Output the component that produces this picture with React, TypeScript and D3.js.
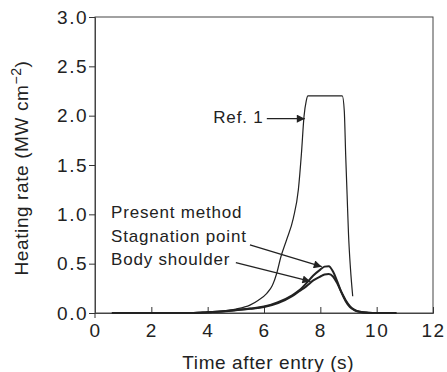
import * as d3 from 'd3';
import * as React from 'react';

const xTicks = [0, 2, 4, 6, 8, 10, 12];
const yTicks = [0, 0.5, 1.0, 1.5, 2.0, 2.5, 3.0];

const refTime = [0.6, 3.5, 4, 4.5, 5, 5.5, 5.8, 6.1, 6.3, 6.45, 6.6, 6.8, 7.04, 7.22, 7.33, 7.42, 7.5, 7.56, 8.0, 8.5, 8.78, 8.85, 8.9, 8.95, 9.0, 9.07, 9.15];
const refRate = [0, 0, 0.01, 0.02, 0.04, 0.08, 0.13, 0.2, 0.28, 0.4, 0.57, 0.74, 0.96, 1.25, 1.62, 1.99, 2.15, 2.2, 2.2, 2.2, 2.2, 2.05, 1.6, 1.2, 0.8, 0.45, 0.17];

const presentTime = [0.6, 3.5, 4, 4.5, 5, 5.5, 6, 6.5, 7, 7.25, 7.5, 7.75, 8, 8.15, 8.3, 8.45, 8.6, 8.75, 8.9, 9.05, 9.2, 9.4, 9.7, 10, 10.7];
const stagnationRate = [0, 0, 0.008, 0.015, 0.03, 0.045, 0.065, 0.11, 0.18, 0.23, 0.3, 0.38, 0.44, 0.47, 0.475, 0.42, 0.32, 0.21, 0.12, 0.06, 0.03, 0.012, 0.003, 0, 0];
const shoulderRate = [0, 0, 0.007, 0.014, 0.028, 0.042, 0.06, 0.1, 0.17, 0.22, 0.27, 0.33, 0.37, 0.39, 0.395, 0.37, 0.3, 0.21, 0.13, 0.07, 0.035, 0.012, 0.002, 0, 0];

const W = 447;
const H = 372;
const INK = '#222';
const FONT = '"Liberation Sans", Arial, sans-serif';

const App = () => {
  const ref = React.useRef<SVGSVGElement | null>(null);

  React.useEffect(() => {
    const svg = d3.select(ref.current);
    svg.selectAll('*').remove();

    const margin = { top: 17, right: 14, bottom: 59, left: 95 };
    const x = d3.scaleLinear().domain([0, 12]).range([margin.left, W - margin.right]);
    const y = d3.scaleLinear().domain([0, 3]).range([H - margin.bottom, margin.top]);

    const defs = svg.append('defs');
    defs
      .append('marker')
      .attr('id', 'arrow')
      .attr('viewBox', '0 0 10 10')
      .attr('refX', 10)
      .attr('refY', 5)
      .attr('markerWidth', 10)
      .attr('markerHeight', 8)
      .attr('markerUnits', 'userSpaceOnUse')
      .attr('orient', 'auto')
      .append('path')
      .attr('d', 'M0,0 L10,5 L0,10 Z')
      .attr('fill', INK);

    // frame
    svg
      .append('rect')
      .attr('x', x(0))
      .attr('y', y(3))
      .attr('width', x(12) - x(0))
      .attr('height', y(0) - y(3))
      .attr('fill', 'none')
      .attr('stroke', '#444')
      .attr('stroke-width', 1);

    const xAxis = d3.axisBottom(x).tickValues(xTicks).tickSize(-6).tickPadding(11).tickFormat(d3.format('d'));
    const gx = svg.append('g').attr('transform', `translate(0,${y(0)})`).call(xAxis);
    gx.selectAll('.tick text')
      .style('font-family', FONT)
      .style('font-size', '19px')
      .style('letter-spacing', '1.5px')
      .attr('fill', INK);

    const yAxis = d3.axisLeft(y).tickValues(yTicks).tickSize(6).tickPadding(1).tickFormat(d3.format('.1f'));
    const gy = svg.append('g').attr('transform', `translate(${x(0)},0)`).call(yAxis);
    gy.selectAll('.tick text')
      .style('font-family', FONT)
      .style('font-size', '19px')
      .style('letter-spacing', '1.5px')
      .attr('fill', INK);
    svg.selectAll('.domain').attr('stroke', '#444');
    svg.selectAll('.tick line').attr('stroke', '#333');

    // outward stub under the origin
    svg
      .append('line')
      .attr('x1', x(0))
      .attr('x2', x(0))
      .attr('y1', y(0))
      .attr('y2', y(0) + 5)
      .attr('stroke', '#333');

    const line = d3
      .line<[number, number]>()
      .x((d) => x(d[0]))
      .y((d) => y(d[1]))
      .curve(d3.curveMonotoneX);

    svg
      .append('path')
      .attr('d', line(refTime.map((t, i) => [t, refRate[i]] as [number, number])))
      .attr('fill', 'none')
      .attr('stroke', INK)
      .attr('stroke-width', 1.2);

    svg
      .append('path')
      .attr('d', line(presentTime.map((t, i) => [t, shoulderRate[i]] as [number, number])))
      .attr('fill', 'none')
      .attr('stroke', INK)
      .attr('stroke-width', 2);

    svg
      .append('path')
      .attr('d', line(presentTime.map((t, i) => [t, stagnationRate[i]] as [number, number])))
      .attr('fill', 'none')
      .attr('stroke', INK)
      .attr('stroke-width', 2);

    // annotations
    const label = (tx, ty, text) =>
      svg
        .append('text')
        .attr('x', x(tx))
        .attr('y', y(ty))
        .style('font-family', FONT)
        .style('font-size', '17px')
        .style('letter-spacing', '0.8px')
        .attr('fill', INK)
        .text(text);

    label(4.2, 1.93, 'Ref. 1');
    label(0.57, 0.96, 'Present method');
    label(0.57, 0.72, 'Stagnation point');
    label(0.57, 0.49, 'Body shoulder');

    const arrow = (x1, y1, x2, y2) =>
      svg
        .append('line')
        .attr('x1', x(x1))
        .attr('y1', y(y1))
        .attr('x2', x(x2))
        .attr('y2', y(y2))
        .attr('stroke', INK)
        .attr('stroke-width', 1.3)
        .attr('marker-end', 'url(#arrow)');

    arrow(6.1, 1.97, 7.45, 1.97);
    arrow(5.5, 0.69, 8.05, 0.47);
    arrow(5.0, 0.51, 7.65, 0.32);

    svg
      .append('text')
      .attr('x', x(6.15))
      .attr('y', H - 3)
      .attr('text-anchor', 'middle')
      .style('font-family', FONT)
      .style('font-size', '19px')
      .style('letter-spacing', '0.6px')
      .attr('fill', INK)
      .text('Time after entry (s)');

    const yt = svg
      .append('text')
      .attr('transform', `translate(28,${y(1.47)}) rotate(-90)`)
      .attr('text-anchor', 'middle')
      .style('font-family', FONT)
      .style('font-size', '19px')
      .style('letter-spacing', '0.6px')
      .attr('fill', INK);
    yt.append('tspan').text('Heating rate (MW cm');
    yt.append('tspan').attr('dy', -7).style('font-size', '14px').text('\u22122');
    yt.append('tspan').attr('dy', 7).text(')');
  }, []);

  return <svg ref={ref} width={W} height={H} style={{ position: 'absolute', left: 0, top: 0, background: '#fff' }} />;
};

export default App;
